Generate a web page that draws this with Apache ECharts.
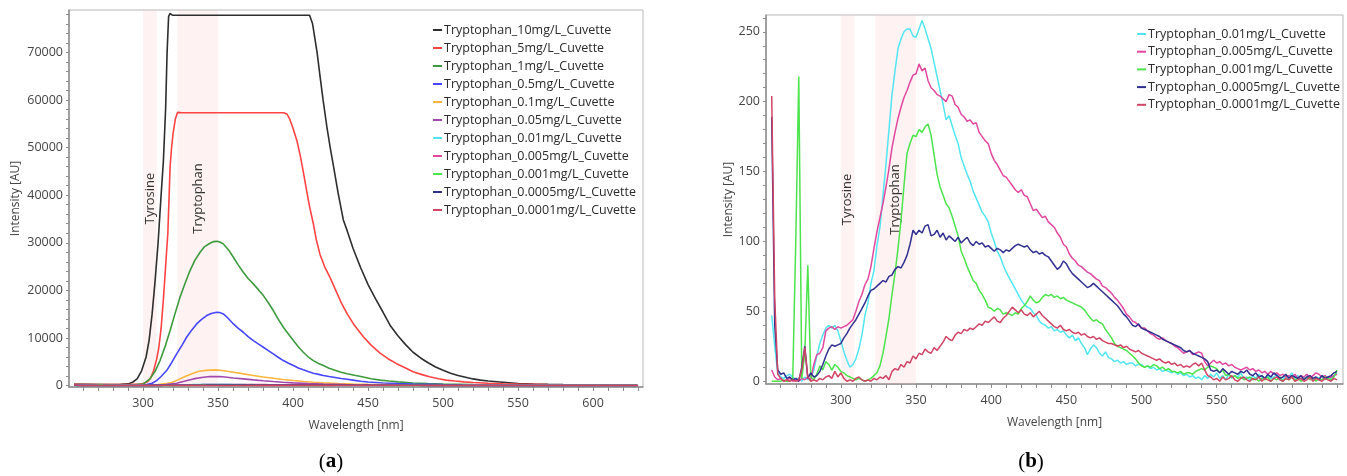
<!DOCTYPE html>
<html><head><meta charset="utf-8">
<script src="https://cdn.jsdelivr.net/npm/echarts@6/dist/echarts.min.js"></script>
<style>html,body{margin:0;padding:0;background:#fff}#c{width:1347px;height:476px}</style>
</head><body><div id="c"></div><script>
// wavelength grid for the noisy low-concentration spectra (nm)
const wl = [
254,256,258,260,262,264,266,268,270,272,
274,276,278,280,282,284,286,288,290,292,
294,296,298,300,302,304,306,308,310,312,
314,316,318,320,322,324,326,328,330,332,
334,336,338,340,342,344,346,348,350,352,
354,356,358,360,362,364,366,368,370,372,
374,376,378,380,382,384,386,388,390,392,
394,396,398,400,402,404,406,408,410,412,
414,416,418,420,422,424,426,428,430,432,
434,436,438,440,442,444,446,448,450,452,
454,456,458,460,462,464,466,468,470,472,
474,476,478,480,482,484,486,488,490,492,
494,496,498,500,502,504,506,508,510,512,
514,516,518,520,522,524,526,528,530,532,
534,536,538,540,542,544,546,548,550,552,
554,556,558,560,562,564,566,568,570,572,
574,576,578,580,582,584,586,588,590,592,
594,596,598,600,602,604,606,608,610,612,
614,616,618,620,622,624,626,628,630];

const c001 = [
47,25,6,3,2,4,5,3,1,2,
0,3,1,2,8,18,27,33,38,40,
38,40,36,29,21,15,10,12,16,23,
33,47,56,70,79,97,110,133,155,180,
205,222,238,245,250,252,252,247,246,252,
258,252,245,238,228,218,208,198,187,190,
183,176,170,160,154,148,143,136,131,126,
121,118,114,106,100,93,89,83,78,74,
70,66,62,58,55,53,52,49,47,43,
41,40,38,39,36,37,35,36,33,31,
33,29,31,27,24,19,23,26,24,20,
18,21,17,16,14,15,13,14,12,13,
13,11,12,12,10,11,9,10,8,9,
7,8,7,6,7,5,6,4,5,3,
4,2,3,1,4,2,5,3,6,2,
4,1,5,2,4,3,6,2,3,1,
4,2,5,3,1,4,2,3,5,2,
1,4,3,6,2,4,1,3,2,4,
1,3,2,4,1,3,2,4,6];

const c0005 = [
8,3,1,2,0,1,2,0,1,0,
2,1,3,1,12,19,20,24,36,38,
39,37,39,38,39,40,42,44,50,57,
62,69,73,82,95,107,117,127,139,152,
167,178,188,196,203,208,214,219,220,227,
222,224,215,210,208,205,204,202,200,205,
204,198,196,191,189,186,187,184,185,178,
175,172,170,163,158,155,151,147,146,143,
140,137,135,137,133,132,127,122,123,120,
117,118,114,112,110,106,103,98,96,91,
88,86,83,82,80,78,77,75,73,72,
68,67,65,63,60,58,55,52,48,46,
43,42,40,38,38,36,34,33,31,30,
31,29,28,27,25,24,22,20,21,22,
19,20,21,20,14,11,13,15,13,14,
12,13,11,12,10,9,8,9,10,8,
9,7,8,6,7,5,7,5,6,4,
5,3,4,3,5,2,4,3,5,2,
4,6,5,3,4,2,3,4,5];

const c0001 = [
0,0,0,0,1,0,0,2,100,218,
2,20,83,3,1,5,11,8,14,12,
8,12,10,7,6,4,3,2,1,2,
1,0,1,2,4,6,11,20,32,45,
62,77,95,115,140,163,170,176,175,180,
178,182,184,176,162,148,139,133,127,124,
118,111,104,93,88,82,77,72,70,65,
62,58,53,52,50,52,51,48,49,48,
47,49,48,52,54,57,61,58,56,57,
60,62,61,62,60,61,59,60,58,57,
56,55,54,53,51,48,45,43,44,42,
41,37,34,31,27,25,24,23,22,20,
18,16,13,11,10,11,10,12,11,9,
10,8,9,7,7,6,7,5,6,6,
5,7,8,9,8,10,11,10,9,6,
8,4,5,3,4,2,3,1,2,3,
1,2,0,2,1,3,0,2,1,3,
0,2,1,3,1,2,0,1,3,1,
2,0,2,1,3,2,1,3,8];

const c00005 = [
189,40,8,5,6,2,3,1,2,0,
10,25,2,6,3,4,7,12,18,23,
26,25,26,27,31,34,38,41,44,48,
52,56,61,65,66,68,70,72,71,75,
76,80,82,81,85,90,98,108,105,108,
106,111,112,104,105,108,103,106,101,104,
102,100,103,99,101,103,99,97,100,98,
99,96,97,95,93,95,94,92,94,93,
95,97,98,97,96,97,94,92,93,91,
92,90,89,86,83,80,82,86,84,80,
77,75,73,71,69,67,68,70,68,66,
64,62,60,58,56,54,51,48,46,43,
40,39,41,38,37,36,35,34,33,32,
30,29,28,27,26,25,24,22,21,22,
20,19,18,17,16,14,8,7,8,6,
9,7,5,7,6,5,7,6,8,5,
4,6,3,4,2,5,3,6,4,2,
3,5,2,4,3,2,4,1,3,4,
2,3,1,4,2,3,4,6,7];

const c00001 = [
204,60,5,2,0,1,0,1,0,1,
8,24,3,0,1,0,2,1,3,4,
2,7,3,6,2,0,1,0,2,3,
1,0,1,0,2,1,3,2,4,1,
7,9,8,12,10,14,13,18,16,20,
19,23,21,20,24,22,25,28,32,30,
29,33,35,34,37,36,38,37,39,41,
40,43,42,44,46,43,42,45,47,50,
53,51,49,51,48,47,49,46,48,50,
47,45,43,41,39,38,40,37,36,37,
35,34,35,33,34,32,31,32,30,31,
29,28,27,27,26,25,26,24,25,23,
22,21,22,20,19,18,17,16,15,16,
14,13,14,12,13,11,12,10,11,10,
12,13,11,13,8,4,3,1,2,0,
3,1,2,4,1,0,2,3,1,0,
2,1,3,0,2,1,0,2,3,1,
0,2,1,3,0,1,2,0,1,3,
0,2,1,0,2,1,0,2,1];

// high-concentration spectra: [wavelength nm, intensity AU]
const c10 = [[254,300],[270,220],[285,250],[290,350],[293,700],[296,1400],[299,3100],[302,6000],[304,9500],[306,15000],[308,22000],[310,30000],[312,40000],[313.5,47000],[315,58000],[316,70000],[317,77500],[318,78200],[319.5,77800],[330,77800],[360,77800],[390,77800],[411,77800],[413,76000],[416,70000],[418,64900],[420,60000],[422.5,54400],[425,49500],[427,46000],[430,40500],[433.5,34800],[436,32600],[440,28800],[445,24800],[450,21200],[455,18200],[460,15400],[465,12500],[470,10400],[475,8600],[480,7000],[485,5800],[490,4800],[495,3900],[500,3200],[505,2600],[510,2100],[515,1750],[520,1400],[525,1150],[530,950],[540,700],[550,450],[560,330],[570,250],[580,200],[600,150],[629,100]];
const c5 = [[254,300],[270,200],[290,200],[298,300],[300,450],[303,800],[305,1600],[307,3100],[309,5500],[310.5,8000],[312,12000],[313.5,18000],[315,25000],[316.5,32000],[318,46000],[319,50000],[320,53000],[321.5,56000],[323,57400],[324,57500],[326,57300],[360,57300],[394,57300],[396,57000],[398,55800],[400,54000],[402.5,51500],[405,48000],[407,44600],[409,41000],[411,37600],[413.5,34000],[415.5,30600],[418,27500],[421,25000],[424.5,22800],[428,20300],[432,17500],[436,15100],[441,12600],[447,10200],[452,8500],[458,6800],[463,5700],[469,4600],[475,3700],[480,2900],[486,2300],[491,1850],[497,1450],[502,1150],[508,950],[514,780],[520,650],[530,480],[540,380],[550,300],[570,220],[600,150],[629,120]];
const c1 = [[254,200],[280,150],[295,200],[300,300],[304.6,1400],[308,3000],[311.3,5250],[315,8500],[318,11550],[321,14800],[324.6,18550],[328,21500],[331.3,24160],[334.5,26300],[338,28000],[341,29200],[344.6,29900],[347,30250],[349.5,30300],[351.5,30100],[353.5,29760],[357,28500],[360.2,26960],[363.5,25300],[366.8,23800],[370,22500],[373.5,21360],[377,20100],[380.2,18900],[383.5,17400],[386.8,15760],[390,14000],[393.5,12250],[397,10800],[400.2,9450],[403.5,8150],[406.8,7000],[410,6050],[413.5,5250],[417,4650],[420.2,4200],[424,3650],[428,3200],[432,2800],[436,2500],[441,2150],[446,1850],[452,1450],[458,1150],[464,950],[470,780],[480,550],[490,400],[500,300],[520,200],[550,150],[600,100],[629,100]];
const c05 = [[254,200],[280,150],[300,180],[302.4,200],[306,500],[309,1050],[312,1900],[315.7,3150],[319,4800],[322.4,6650],[326,8500],[329,10150],[332.5,11700],[335.7,12950],[339,13900],[342.4,14700],[345.5,15150],[349,15400],[351,15350],[353.5,15060],[356.5,14200],[360.2,12950],[363.5,12000],[366.8,11200],[370,10300],[373.5,9450],[377,8700],[380.2,8050],[383.5,7350],[386.8,6650],[390,5950],[393.5,5250],[397,4700],[400.2,4200],[403.5,3700],[406.8,3300],[410,2950],[413.5,2600],[417,2350],[420.2,2100],[424,1900],[428,1700],[432,1500],[436,1330],[440,1150],[445,900],[450,750],[460,550],[470,400],[480,300],[500,200],[550,150],[629,100]];
const c01 = [[254,200],[300,150],[310,200],[315,400],[319.6,700],[324,1300],[328.4,1960],[333,2550],[337.3,3000],[342,3200],[348.4,3300],[354,3100],[360.2,2800],[367,2450],[373.5,2100],[380,1800],[386.8,1540],[393,1280],[400.2,1050],[407,850],[413.5,700],[420,560],[430,420],[440,320],[450,250],[470,160],[500,100],[550,80],[629,60]];
const c005 = [[254,150],[300,100],[315,200],[322.4,500],[328,950],[333.5,1400],[339,1700],[344.6,1890],[351.3,1890],[356,1750],[360,1600],[367,1400],[373.5,1200],[380,1020],[386.8,850],[393,700],[400,560],[410,420],[420,330],[435,230],[450,170],[470,110],[500,60],[550,40],[629,30]];

const names = ['Tryptophan_10mg/L_Cuvette','Tryptophan_5mg/L_Cuvette','Tryptophan_1mg/L_Cuvette','Tryptophan_0.5mg/L_Cuvette','Tryptophan_0.1mg/L_Cuvette','Tryptophan_0.05mg/L_Cuvette','Tryptophan_0.01mg/L_Cuvette','Tryptophan_0.005mg/L_Cuvette','Tryptophan_0.001mg/L_Cuvette','Tryptophan_0.0005mg/L_Cuvette','Tryptophan_0.0001mg/L_Cuvette'];
const colors = ['#2e2e2e','#ff4343','#3d9a3d','#4646ff','#ffb53d','#a348ae','#52e6f2','#e2479f','#4be44b','#303090','#d04464'];

const xLabelVals = [300,350,400,450,500,550,600];
const xTickVals = [260,270,280,290,300,310,320,330,340,350,360,370,380,390,400,410,420,430,440,450,460,470,480,490,500,510,520,530,540,550,560,570,580,590,600,610,620,630];
const yLabelsA = [0,10000,20000,30000,40000,50000,60000,70000];
const yLabelsB = [0,50,100,150,200,250];
const bands = [['Tyrosine',300,309],['Tryptophan',323,350]];

const ticksA = []; for (let v = 0; v <= 78000; v += 2000) ticksA.push(v);
const ticksB = []; for (let v = 0; v <= 260; v += 10) ticksB.push(v);

const highData = [c10,c5,c1,c05,c01,c005];
const lowVals = [c001,c0005,c0001,c00005,c00001];
const pairs = v => wl.map((w,i)=>[w,v[i]]);

const axisColor = '#8c8c8c';
const labelColor = '#444';
function xAxis(gi, min, max){
  return {type:'value', gridIndex:gi, min:min, max:max,
    name:'Wavelength [nm]', nameLocation:'middle', nameGap:33,
    nameTextStyle:{color:labelColor, fontSize:12},
    axisLine:{show:true, onZero:false, lineStyle:{color:axisColor, width:1.5}},
    axisTick:{show:true, customValues:xTickVals, length:4, lineStyle:{color:axisColor}},
    axisLabel:{customValues:xLabelVals, color:labelColor, fontSize:12.5, margin:10, formatter:v=>String(v)},
    splitLine:{show:false}};
}
function yAxis(gi, min, max, labels, ticks, gap){
  return {type:'value', gridIndex:gi, min:min, max:max,
    name:'Intensity [AU]', nameLocation:'middle', nameGap:gap,
    nameTextStyle:{color:labelColor, fontSize:12},
    axisLine:{show:true, onZero:false, lineStyle:{color:axisColor, width:1.5}},
    axisTick:{show:true, customValues:ticks, length:3, lineStyle:{color:axisColor}},
    axisLabel:{customValues:labels, color:labelColor, fontSize:12.5, margin:6, formatter:v=>String(v)},
    splitLine:{show:false}};
}
function bandSeries(ai){
  return {type:'line', xAxisIndex:ai, yAxisIndex:ai, data:[], silent:true, z:1,
    markArea:{silent:true, itemStyle:{color:'rgba(250,190,190,0.2)'},
      label:{show:true, position:'inside', rotate:90, color:'#333', fontSize:13, formatter:'{b}'},
      data: bands.map(b=>[{name:b[0], xAxis:b[1]},{xAxis:b[2]}])}};
}
const series = [bandSeries(0), bandSeries(1)];
names.forEach((n,i)=>{
  const d = i < 6 ? highData[i] : pairs(lowVals[i-6]);
  series.push({name:n, type:'line', xAxisIndex:0, yAxisIndex:0, data:d, showSymbol:false, symbol:'none',
    lineStyle:{width:1.6, color:colors[i]}, itemStyle:{color:colors[i]}, z:2});
});
names.slice(6).forEach((n,j)=>{
  series.push({name:n, type:'line', xAxisIndex:1, yAxisIndex:1, data:pairs(lowVals[j]), showSymbol:false, symbol:'none',
    lineStyle:{width:1.5, color:colors[6+j]}, itemStyle:{color:colors[6+j]}, z:2});
});

const legendBase = {orient:'vertical', icon:'rect', itemWidth:9, itemHeight:2, textStyle:{fontSize:12.5, color:'#2a2a2a', lineHeight:14, padding:[0,0,0,-3]}};
const chart = echarts.init(document.getElementById('c'), null, {renderer:'canvas'});
chart.setOption({
  animation:false,
  textStyle:{fontFamily:'Open Sans'},
  grid:[
    {left:69, right:704, top:10, bottom:89, show:true, borderColor:'#b8b8b8', borderWidth:1, containLabel:false},
    {left:766, right:4, top:15, bottom:92, show:true, borderColor:'#b8b8b8', borderWidth:1, containLabel:false}
  ],
  xAxis:[xAxis(0,250.6,633.3), xAxis(1,250.2,634)],
  yAxis:[yAxis(0,-300,78900,yLabelsA,ticksA,47), yAxis(1,-2,262,yLabelsB,ticksB,30)],
  legend:[
    Object.assign({}, legendBase, {left:428, top:18, itemGap:4, data:names}),
    Object.assign({}, legendBase, {left:1132, top:22, itemGap:3.7, data:names.slice(6)})
  ],
  graphic:[
    {type:'text', x:331, y:462, style:{text:'{p|(}{b|a}{p|)}', align:'center', verticalAlign:'middle',
      rich:{p:{fontFamily:'Liberation Serif', fontSize:21, fill:'#000'}, b:{fontFamily:'Liberation Serif', fontSize:21, fontWeight:'bold', fill:'#000'}}}},
    {type:'text', x:1031, y:462, style:{text:'{p|(}{b|b}{p|)}', align:'center', verticalAlign:'middle',
      rich:{p:{fontFamily:'Liberation Serif', fontSize:21, fill:'#000'}, b:{fontFamily:'Liberation Serif', fontSize:21, fontWeight:'bold', fill:'#000'}}}}
  ],
  series:series
});
</script></body></html>
